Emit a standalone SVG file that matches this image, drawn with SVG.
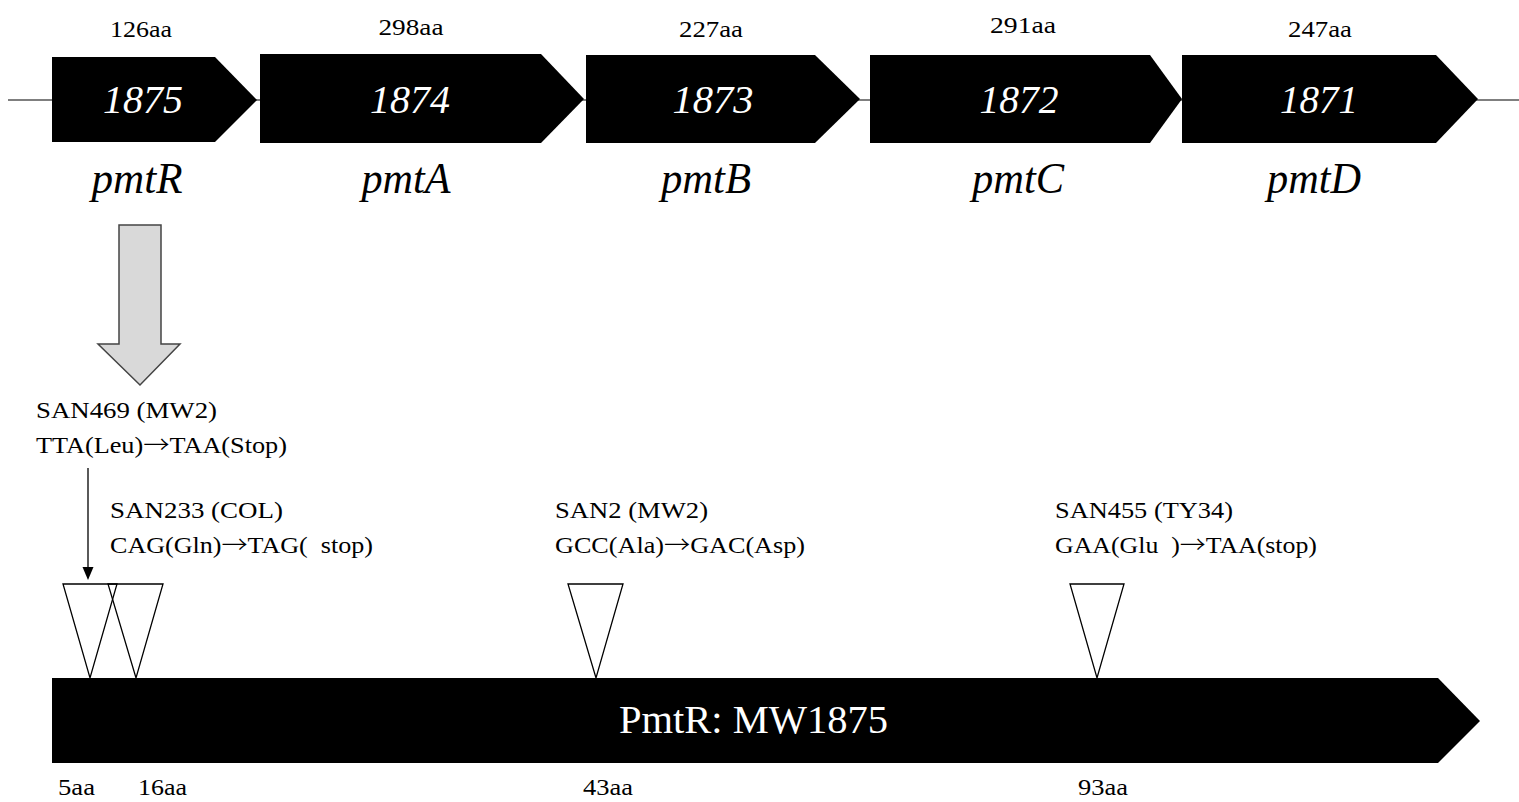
<svg xmlns="http://www.w3.org/2000/svg" width="1519" height="802" viewBox="0 0 1519 802">
<style>
text{font-family:"Liberation Serif","Times New Roman",serif;fill:#000;white-space:pre}
.aa{font-size:23px}
.num{font-size:39px;font-style:italic;fill:#fff}
.gn{font-size:44px;font-style:italic}
.mut{font-size:24px}
.arr{font-family:"Noto Sans CJK JP","DejaVu Sans",sans-serif;font-weight:300}
.gene{fill:#000}
.tri{fill:none;stroke:#000;stroke-width:1.3}
</style>
<rect width="1519" height="802" fill="#fff"/>
<g id="connectors">
<line x1="8" y1="100" x2="1519" y2="100" stroke="#555" stroke-width="1.5"/>
<g id="bigarrow">
<polygon points="119,225 161,225 161,344 180,344 140,385 98,344 119,344" fill="#d9d9d9" stroke="#444" stroke-width="1.5"/>
</g>
<g id="pointer">
<line x1="88" y1="468" x2="88" y2="570" stroke="#000" stroke-width="1.3"/>
<polygon points="82.5,567 93.5,567 88,580" fill="#000"/>
</g>
</g>
<g id="gene1875">
<polygon class="gene" points="52,57 215,57 257,100 215,142 52,142"/>
<text class="aa" x="141" y="37" text-anchor="middle" textLength="62" lengthAdjust="spacingAndGlyphs">126aa</text>
<text class="num" x="143" y="113" text-anchor="middle" textLength="80" lengthAdjust="spacingAndGlyphs">1875</text>
<text class="gn" x="137" y="193" text-anchor="middle" textLength="91" lengthAdjust="spacingAndGlyphs">pmtR</text>
</g>
<g id="gene1874">
<polygon class="gene" points="260,54 541,54 584,99 541,143 260,143"/>
<text class="aa" x="411" y="35" text-anchor="middle" textLength="65" lengthAdjust="spacingAndGlyphs">298aa</text>
<text class="num" x="410" y="113" text-anchor="middle" textLength="80" lengthAdjust="spacingAndGlyphs">1874</text>
<text class="gn" x="406" y="193" text-anchor="middle" textLength="89" lengthAdjust="spacingAndGlyphs">pmtA</text>
</g>
<g id="gene1873">
<polygon class="gene" points="586,55 815,55 860,99 815,143 586,143"/>
<text class="aa" x="711" y="37" text-anchor="middle" textLength="64" lengthAdjust="spacingAndGlyphs">227aa</text>
<text class="num" x="713" y="113" text-anchor="middle" textLength="81" lengthAdjust="spacingAndGlyphs">1873</text>
<text class="gn" x="706" y="193" text-anchor="middle" textLength="90" lengthAdjust="spacingAndGlyphs">pmtB</text>
</g>
<g id="gene1872">
<polygon class="gene" points="870,55 1150,55 1182,99 1150,143 870,143"/>
<text class="aa" x="1023" y="33" text-anchor="middle" textLength="66" lengthAdjust="spacingAndGlyphs">291aa</text>
<text class="num" x="1019" y="113" text-anchor="middle" textLength="79" lengthAdjust="spacingAndGlyphs">1872</text>
<text class="gn" x="1018" y="193" text-anchor="middle" textLength="92" lengthAdjust="spacingAndGlyphs">pmtC</text>
</g>
<g id="gene1871">
<polygon class="gene" points="1182,55 1436,55 1478,99 1436,143 1182,143"/>
<text class="aa" x="1320" y="37" text-anchor="middle" textLength="64" lengthAdjust="spacingAndGlyphs">247aa</text>
<text class="num" x="1319" y="113" text-anchor="middle" textLength="78" lengthAdjust="spacingAndGlyphs">1871</text>
<text class="gn" x="1314" y="193" text-anchor="middle" textLength="94" lengthAdjust="spacingAndGlyphs">pmtD</text>
</g>
<g id="pmtR-protein">
<polygon class="gene" points="52,678 1438,678 1480,721 1438,763 52,763"/>
<text x="619" y="733" style="font-size:40px;fill:#fff" textLength="269" lengthAdjust="spacingAndGlyphs">PmtR: MW1875</text>
</g>
<g id="mut-SAN469">
<text class="mut" x="36" y="418" textLength="181" lengthAdjust="spacingAndGlyphs">SAN469 (MW2)</text>
<text class="mut" x="36" y="453" textLength="251" lengthAdjust="spacingAndGlyphs">TTA(Leu)<tspan class="arr">→</tspan>TAA(Stop)</text>
<polygon class="tri" points="63,584 117,584 90,678"/>
<text class="aa" x="58" y="795" textLength="37" lengthAdjust="spacingAndGlyphs">5aa</text>
</g>
<g id="mut-SAN233">
<text class="mut" x="110" y="518" textLength="173" lengthAdjust="spacingAndGlyphs">SAN233 (COL)</text>
<text class="mut" x="110" y="553" textLength="263" lengthAdjust="spacingAndGlyphs">CAG(Gln)<tspan class="arr">→</tspan>TAG(  stop)</text>
<polygon class="tri" points="108,584 163,584 136,678"/>
<text class="aa" x="138" y="795" textLength="49" lengthAdjust="spacingAndGlyphs">16aa</text>
</g>
<g id="mut-SAN2">
<text class="mut" x="555" y="518" textLength="153" lengthAdjust="spacingAndGlyphs">SAN2 (MW2)</text>
<text class="mut" x="555" y="553" textLength="250" lengthAdjust="spacingAndGlyphs">GCC(Ala)<tspan class="arr">→</tspan>GAC(Asp)</text>
<polygon class="tri" points="568,584 623,584 596,678"/>
<text class="aa" x="583" y="795" textLength="50" lengthAdjust="spacingAndGlyphs">43aa</text>
</g>
<g id="mut-SAN455">
<text class="mut" x="1055" y="518" textLength="178" lengthAdjust="spacingAndGlyphs">SAN455 (TY34)</text>
<text class="mut" x="1055" y="553" textLength="262" lengthAdjust="spacingAndGlyphs">GAA(Glu  )<tspan class="arr">→</tspan>TAA(stop)</text>
<polygon class="tri" points="1070,584 1124,584 1097,678"/>
<text class="aa" x="1078" y="795" textLength="50" lengthAdjust="spacingAndGlyphs">93aa</text>
</g>
</svg>
